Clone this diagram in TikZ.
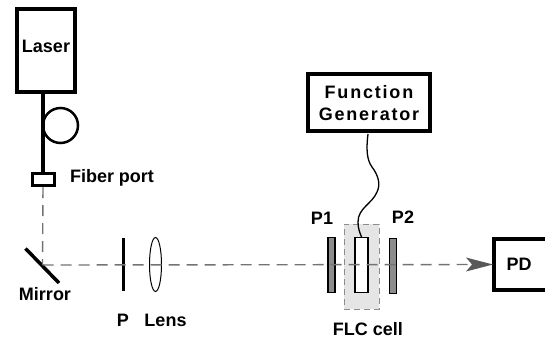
\documentclass[tikz,border=0pt]{standalone}
\usepackage{fontspec}
\setmainfont{Liberation Sans}
\newfontfamily\spaced[LetterSpace=10]{Liberation Sans}
\usetikzlibrary{shapes.geometric}
\tikzset{
    caption/.style = {font=\bfseries\fontsize{18}{20}\selectfont, inner sep=0pt},
    thick box/.style = {draw, line width=4pt, fill=white, inner sep=0pt},
    plate/.style = {draw, line width=1.2pt, inner sep=0pt, minimum width=7pt, minimum height=55pt},
    beam/.style = {color=black!55, line width=1.4pt, dash pattern=on 11pt off 7pt}
}
\begin{document}
\begin{tikzpicture}[x=1pt, y=-1pt]
        \useasboundingbox (0,0) rectangle (545,340);

        \node[draw=black!45, line width=1pt, dash pattern=on 6pt off 4pt, fill=black!10, minimum width=35pt, minimum height=85pt, inner sep=0pt] (flc) at (361.5,266.5) {};

        \node[thick box, minimum width=58pt, minimum height=83pt] (laser) at (45.5,50) {};
        \node[caption] (lasertext) at (46,46) {Laser};
        \node[thick box, line width=3pt, minimum width=22pt, minimum height=12pt] (port) at (43,179.5) {};
        \node[draw, line width=2.5pt, circle, minimum size=35pt, inner sep=0pt] (loop) at (60.5,125.5) {};
        \node[thick box, minimum width=122pt, minimum height=57pt] (generator) at (368.5,102.5) {};
        \node[caption, align=center, font=\spaced\bfseries\fontsize{18}{22}\selectfont] (generatortext) at (369,103) {Function\\Generator};
        \node[thick box, minimum width=62pt, minimum height=51pt] (pd) at (525,264.5) {};
        \node[caption] (pdtext) at (519,264) {PD};

        \node[plate, fill=black!45] (pone) at (331.5,265) {};
        \node[plate, fill=white, minimum width=13pt] (cell) at (361.5,265) {};
        \node[plate, fill=black!45] (ptwo) at (393,266) {};
        \node[draw, ellipse, line width=1pt, minimum width=12pt, minimum height=54pt, inner sep=0pt] (lens) at (155.5,264.5) {};

        \coordinate (mirror) at (42.5,265);
        \coordinate (mirrora) at (25.5,248.5);
        \coordinate (mirrorb) at (59,283);
        \coordinate (pa) at (123.5,238);
        \coordinate (pb) at (123.5,291);

        \draw[line width=3.2pt] (laser.south -| port) -- (port.north);
        \draw[line width=3.5pt] (mirrora) -- (mirrorb);
        \draw[line width=3pt] (pa) -- (pb);

        \draw[line width=1.3pt] (generator.south) ++(-0.5,1)
            .. controls (366,150) and (367,160) .. (372,167)
            .. controls (378,175) and (381,184) .. (377,192)
            .. controls (372,204) and (358,208) .. (358,222)
            .. controls (358,229) and (360,233) .. (cell.north);

        \draw[beam] (port.south) -- (mirror);
        \draw[beam] (mirror) -- (pd.west);
        \draw[draw=none, fill=black!65] (pd.west) ++(1,0) -- ++(-27,-7) -- ++(6,7) -- ++(-6,7) -- cycle;

        \node[caption] (porttext) at (112,178) {Fiber port};
        \node[caption] (mirrortext) at (45,294) {Mirror};
        \node[caption] (ptext) at (123,320) {P};
        \node[caption] (lenstext) at (165.5,320) {Lens};
        \node[caption] (ponetext) at (322,218) {P1};
        \node[caption] (ptwotext) at (403,217) {P2};
        \node[caption] (flctext) at (368,329) {FLC cell};
\end{tikzpicture}
\end{document}
